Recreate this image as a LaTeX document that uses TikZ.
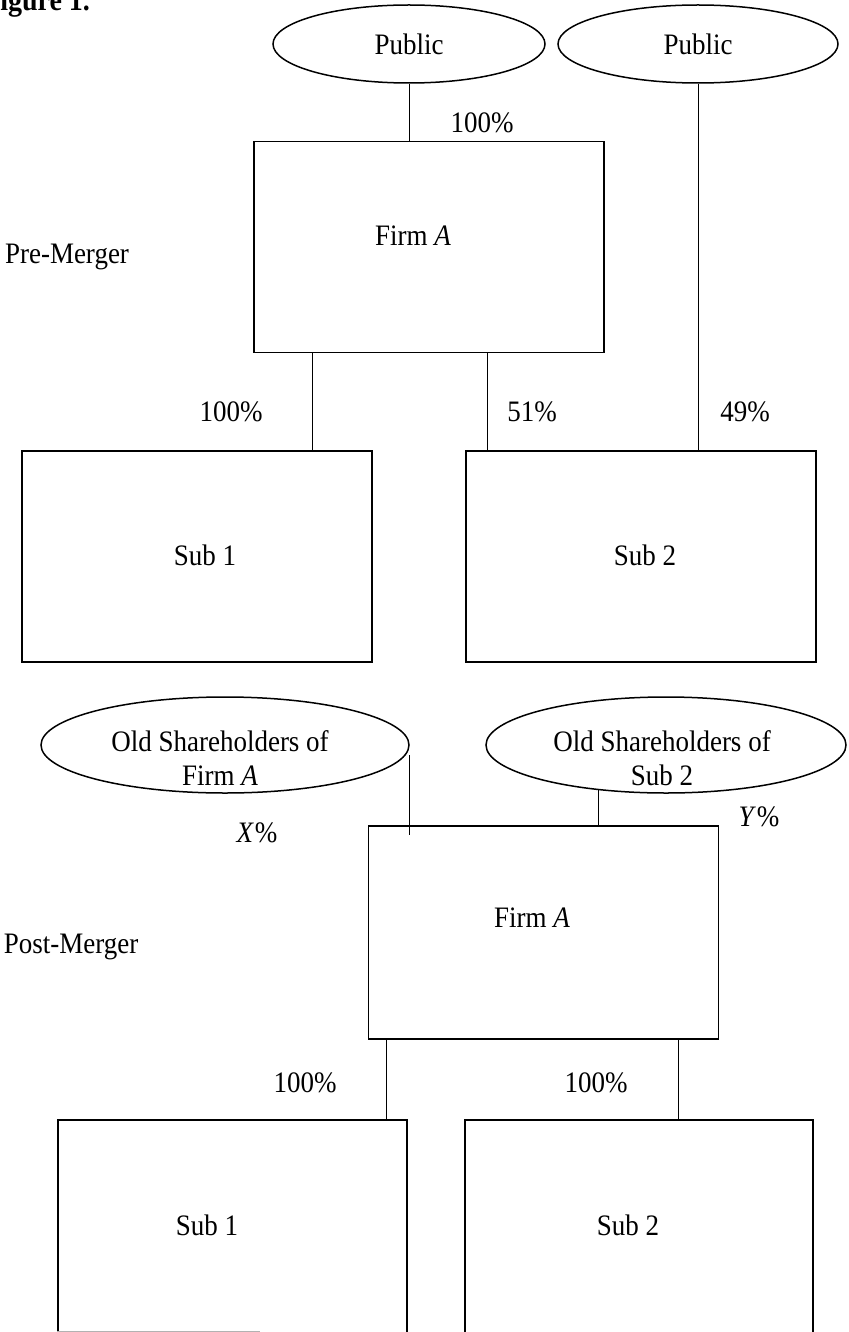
\documentclass[tikz,border=0pt]{standalone}
\usepackage{graphicx}
\usepackage{fontspec}
\setmainfont{Liberation Serif}
\usetikzlibrary{shapes.geometric}
\newcommand{\vstr}[1]{\scalebox{1}[1.1]{#1}}
\begin{document}
\begin{tikzpicture}[x=1pt,y=-1pt,
  txt/.style={font=\fontsize{27}{34}\selectfont, inner sep=0pt},
  oval/.style={draw, ellipse, line width=1.5pt, inner sep=0pt, font=\fontsize{27}{34}\selectfont},
  box/.style={draw, rectangle, line width=1.5pt, inner sep=0pt, minimum width=350pt, minimum height=211pt},
  link/.style={line width=0.9pt}]
\useasboundingbox (0,0) rectangle (848,1332);
\clip (0,0) rectangle (848,1332);
% title (cut off at top, as in the reference)
\node[font=\bfseries\fontsize{28}{32}\selectfont, inner sep=0pt, anchor=base west] (fig) at (-17,11) {\vstr{Figure 1.}};
% ---------------- Pre-Merger ----------------
\node[oval, minimum width=272pt, minimum height=78pt] (pub1) at (409,44) {\vstr{Public}};
\node[oval, minimum width=280pt, minimum height=78pt] (pub2) at (698,44) {\vstr{Public}};
\node[box] (firmA) at (429,247) {};
\node[txt] (firmAt) at (413,236) {\vstr{Firm \textit{A}}};
\node[txt] (pre) at (67,257) {\vstr{Pre-Merger}};
\node[box] (sub1) at (197,556.5) {};
\node[box] (sub2) at (641,556.5) {};
\node[txt] (sub1t) at (205,555) {\vstr{Sub 1}};
\node[txt] (sub2t) at (645,555) {\vstr{Sub 2}};
\draw[link] (pub1.south) -- (pub1.south |- firmA.north);
\draw[link] (pub2.south) -- (pub2.south |- sub2.north);
\draw[link] ([xshift=59pt]firmA.south west) -- ([xshift=59pt]firmA.south west |- sub1.north);
\draw[link] ([xshift=-117pt]firmA.south east) -- ([xshift=-117pt]firmA.south east |- sub2.north);
\node[txt] (l100a) at (482,123) {\vstr{100\%}};
\node[txt] (l100b) at (231,412) {\vstr{100\%}};
\node[txt] (l51) at (532,412) {\vstr{51\%}};
\node[txt] (l49) at (745,412) {\vstr{49\%}};
% ---------------- Post-Merger ----------------
\node[oval, minimum width=368pt, minimum height=96pt] (osa) at (225,745) {};
\node[oval, minimum width=360pt, minimum height=96pt] (oss2) at (666,745) {};
\node[txt, align=center] (osat) at (220,758) {\vstr{Old Shareholders of}\\\vstr{Firm \textit{A}}};
\node[txt, align=center] (oss2t) at (662,758) {\vstr{Old Shareholders of}\\\vstr{Sub 2}};
\node[box, minimum height=213pt] (firmB) at (543.5,932.5) {};
\node[txt] (firmBt) at (532,918) {\vstr{Firm \textit{A}}};
\node[txt] (post) at (71,947) {\vstr{Post-Merger}};
\draw[link] ([yshift=-10pt]osa.east) -- ([yshift=-10pt]osa.east |- firmB.north);
\draw[link] (oss2.214.1) -- (oss2.214.1 |- firmB.north);
\node[txt] (lx) at (257,833) {\vstr{\textit{X}\kern1pt\%}};
\node[txt] (ly) at (759,817) {\vstr{\textit{Y}\kern1pt\%}};
\node[box, minimum width=349pt, minimum height=230pt] (sub1b) at (232.5,1235) {};
\node[box, minimum width=348pt, minimum height=230pt] (sub2b) at (639,1235) {};
\node[txt] (sub1bt) at (207,1225) {\vstr{Sub 1}};
\node[txt] (sub2bt) at (628,1225) {\vstr{Sub 2}};
\draw[link] ([xshift=19pt]firmB.south west) -- ([xshift=19pt]firmB.south west |- sub1b.north);
\draw[link] ([xshift=-41pt]firmB.south east) -- ([xshift=-41pt]firmB.south east |- sub2b.north);
\node[txt] (l100c) at (305,1083) {\vstr{100\%}};
\node[txt] (l100d) at (596,1083) {\vstr{100\%}};
\draw[gray!60, line width=1pt] (57,1331) -- (260,1331);
\end{tikzpicture}
\end{document}
